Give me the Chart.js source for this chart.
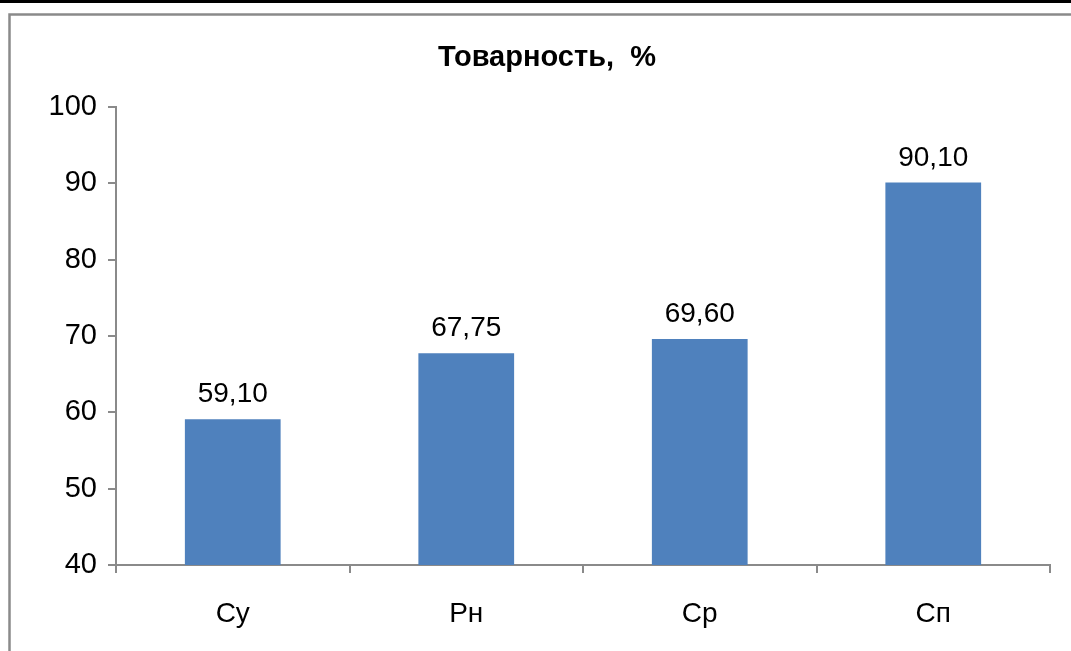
<!DOCTYPE html>
<html lang="ru">
<head>
<meta charset="utf-8">
<title>Товарность, %</title>
<script src="https://cdn.jsdelivr.net/npm/chart.js"></script>
<style>
  html, body { margin: 0; padding: 0; background: #fff; }
  canvas { display: block; }
</style>
</head>
<body>
<canvas id="chart" width="1071" height="651"></canvas>
<script>
// data
const categories = ['Су', 'Рн', 'Ср', 'Сп'];
const values = [59.10, 67.75, 69.60, 90.10];
const yTicks = [40, 50, 60, 70, 80, 90, 100];
const chartTitle = 'Товарность,  %';

const FONT = "'Liberation Sans', Arial, sans-serif";
const AXIS = '#8a8a8a';

// outer frame + top black rule, drawn behind everything
const framePlugin = {
  id: 'frame',
  beforeDraw(chart) {
    const c = chart.ctx;
    c.save();
    c.fillStyle = '#fff';
    c.fillRect(0, 0, chart.width, chart.height);
    c.fillStyle = '#000';
    c.fillRect(0, 0, chart.width, 3);
    c.strokeStyle = AXIS;
    c.lineWidth = 2.5;
    c.strokeRect(9.5, 14.5, chart.width + 20, chart.height + 20);
    c.restore();
  }
};

// title + value labels above bars
const labelPlugin = {
  id: 'valueLabels',
  afterDatasetsDraw(chart) {
    const c = chart.ctx;
    c.save();
    c.fillStyle = '#000';
    c.textAlign = 'center';
    c.textBaseline = 'alphabetic';
    c.font = 'bold 29px ' + FONT;
    c.fillText(chartTitle, 547, 66);
    c.font = '28px ' + FONT;
    chart.getDatasetMeta(0).data.forEach((bar, i) => {
      c.fillText(values[i].toFixed(2).replace('.', ','), bar.x, bar.y - 17);
    });
    c.restore();
  }
};

new Chart(document.getElementById('chart'), {
  type: 'bar',
  data: {
    labels: categories,
    datasets: [{
      data: values,
      backgroundColor: '#4f81bd',
      borderWidth: 0,
      barPercentage: 0.41,
      categoryPercentage: 1
    }]
  },
  options: {
    responsive: false,
    animation: false,
    layout: { padding: { top: 107, right: 21, left: 0, bottom: 0 } },
    plugins: {
      legend: { display: false },
      title: { display: false },
      tooltip: { enabled: false }
    },
    scales: {
      x: {
        afterFit(scale) { scale.height = 86; },
        border: { color: AXIS, width: 2 },
        grid: { offset: true, drawOnChartArea: false, color: AXIS, lineWidth: 2, tickLength: 8 },
        ticks: { color: '#000', font: { family: FONT, size: 28 }, padding: 24 }
      },
      y: {
        min: yTicks[0],
        max: yTicks[yTicks.length - 1],
        afterFit(scale) { scale.width = 116; },
        afterBuildTicks(scale) { scale.ticks = yTicks.map(v => ({ value: v })); },
        border: { color: AXIS, width: 2 },
        grid: { drawOnChartArea: false, color: AXIS, lineWidth: 2, tickLength: 8 },
        ticks: { color: '#000', font: { family: FONT, size: 29 }, padding: 11 }
      }
    }
  },
  plugins: [framePlugin, labelPlugin]
});
</script>
</body>
</html>
